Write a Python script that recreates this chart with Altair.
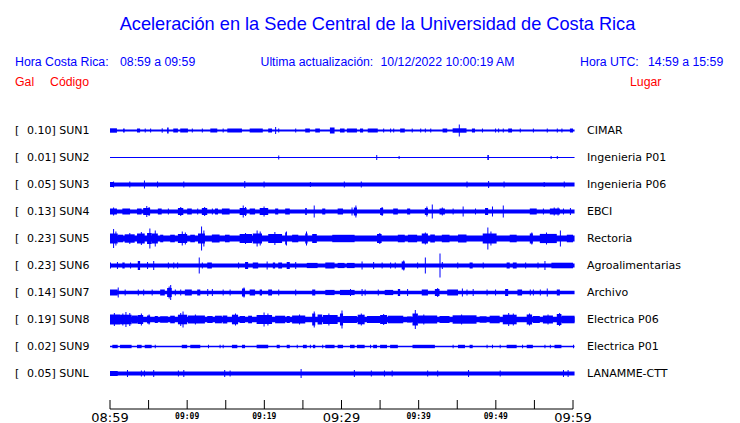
import altair as alt
import pandas as pd

# ---------------- data ----------------
stations = ["SUN1", "SUN2", "SUN3", "SUN4", "SUN5", "SUN6", "SUN7", "SUN8", "SUN9", "SUNL"]
gal = ["0.10", "0.01", "0.05", "0.13", "0.23", "0.23", "0.14", "0.19", "0.02", "0.05"]
places = ["CIMAR", "Ingenieria P01", "Ingenieria P06", "EBCI", "Rectoria",
          "Agroalimentarias", "Archivo", "Electrica P06", "Electrica P01", "LANAMME-CTT"]

# background noise half-amplitude of each trace (px)
noise = [1.0, 0.5, 2.0, 2.0, 3.0, 2.0, 1.8, 2.7, 0.7, 2.0]

# bursts / spikes: (start minute, end minute, half amplitude px)
sun1 = [(0, 0.9, 2.2), (1.7, 1.9, 2), (3.5, 3.9, 2), (4.5, 4.6, 2), (5.2, 5.3, 2), (6.7, 6.8, 2.2),
        (7.4, 7.6, 3), (8.2, 8.8, 2), (9.1, 10.1, 2), (10.6, 10.7, 2), (11.9, 12, 2), (13, 13.9, 2),
        (14.6, 14.7, 2), (15.2, 17.1, 2), (18.1, 19.8, 2), (20.5, 21, 2), (21.4, 21.5, 3.5),
        (21.8, 21.9, 2), (24, 24.1, 2), (25.3, 25.9, 2), (26.6, 27.2, 2), (28.5, 29.1, 3),
        (29.8, 30.4, 2), (30.7, 32, 2), (32.4, 32.8, 2), (33.4, 34.7, 2), (35.4, 35.5, 2),
        (36.3, 36.4, 2), (36.7, 36.8, 2), (37.6, 38.2, 2), (39.1, 39.2, 2), (40.2, 40.3, 2),
        (40.8, 40.9, 2), (41.5, 41.6, 2), (43.1, 43.7, 2), (44.4, 46.2, 2.2), (45.2, 45.2, 6),
        (46.9, 47.3, 2), (48.2, 48.3, 2), (49.9, 50, 2), (50.3, 50.4, 2), (50.9, 51, 2),
        (51.6, 52.1, 2), (53.1, 53.2, 2), (54.8, 54.9, 2), (56.6, 56.7, 2), (57.9, 58, 2),
        (58.5, 58.6, 2), (59.6, 60, 2)]
sun2 = [(21.8, 21.8, 2), (34.5, 34.5, 2.5), (37.4, 37.4, 1.5), (48.9, 49.1, 2.5), (57.1, 57.1, 1.5),
        (57.9, 57.9, 1.5)]
sun3 = [(0, 0.5, 2.5), (0.4, 0.4, 3), (2.5, 2.5, 3), (4.4, 4.4, 4), (6.1, 6.1, 3), (9.5, 9.5, 3),
        (17.4, 17.4, 3.5), (19.9, 19.9, 3), (25.9, 25.9, 2.5), (30.3, 30.3, 3), (32.5, 32.5, 3),
        (46.2, 46.2, 3), (49.0, 49.0, 3.5), (51.0, 51.0, 3), (56.2, 56.2, 2.5), (58.8, 58.8, 3)]
sun4 = [(0, 0.9, 3), (0.4, 0.4, 4), (1.6, 2.6, 3), (3.5, 4.1, 3), (4.3, 5.2, 3.5), (4.7, 4.7, 5.5),
        (5.0, 5.0, 4.5), (6.2, 6.7, 3), (7.5, 7.5, 3), (8.8, 9.5, 3.5), (9.1, 9.1, 4.5),
        (10.0, 10.6, 3), (11.3, 11.4, 3), (11.9, 12.6, 3.5), (12.2, 12.2, 4.5), (13.2, 13.2, 3),
        (13.6, 14.0, 3), (14.5, 15.5, 3), (16.8, 17.7, 3.5), (17.2, 17.2, 6), (17.5, 17.5, 4.5),
        (18.1, 18.8, 3), (19.4, 20.5, 3.5), (19.9, 19.9, 5), (21.4, 21.8, 3), (22.7, 23.3, 3),
        (25.3, 25.5, 3.5), (26.4, 26.4, 6), (27.5, 27.9, 3), (29.5, 30.2, 3), (31.3, 31.3, 4),
        (31.6, 32.0, 4), (31.8, 31.8, 6), (35.0, 35.4, 3.5), (35.2, 35.2, 4.5), (36.7, 37.3, 3),
        (38.5, 38.9, 3), (40.8, 41.2, 3.5), (41.0, 41.0, 5), (41.7, 41.7, 7), (42.7, 43.4, 3),
        (43.0, 43.0, 4), (44.4, 44.4, 3), (45.7, 45.7, 5), (47.3, 47.3, 3), (48.6, 49.0, 3.5),
        (49.5, 49.5, 5), (50.9, 50.9, 6), (54.4, 55.3, 3), (56.1, 56.1, 3), (57.0, 58.3, 3),
        (57.5, 57.5, 4), (58.0, 58.0, 4), (58.7, 58.7, 3), (59.6, 59.6, 3.5)]
sun5 = [(0, 1.0, 5), (0.4, 0.4, 9.5), (0.7, 0.7, 7), (1.0, 1.7, 3.8), (1.9, 3.2, 4.2), (2.5, 2.5, 5.5),
        (3.5, 4.5, 5), (4.0, 4.0, 6.5), (4.8, 5.4, 5.5), (5.1, 5.1, 10), (5.4, 6.2, 5), (5.8, 5.8, 8),
        (6.5, 6.9, 3.8), (7.8, 8.4, 3.8), (8.8, 10.0, 4.5), (9.3, 9.3, 7), (9.7, 9.7, 6),
        (10.4, 11.0, 3.8), (11.4, 12.3, 5), (11.8, 11.8, 12), (12.1, 12.1, 8), (13.2, 14.2, 4),
        (14.9, 15.5, 3.8), (16.8, 18.4, 4.5), (17.5, 17.5, 5.5), (18.5, 19.7, 5), (19.0, 19.0, 8),
        (19.4, 19.4, 7), (20.5, 22.3, 4.5), (21.3, 21.3, 6.5), (22.7, 22.9, 6), (22.8, 22.8, 7),
        (23.6, 24.4, 3.8), (25.3, 25.6, 5), (25.4, 25.4, 7), (26.2, 26.8, 4.5), (28.8, 31.7, 3.7),
        (34.6, 35.2, 4.5), (34.9, 34.9, 5.5), (37.3, 38.2, 3.8), (38.6, 39.8, 3.8), (40.4, 41.2, 5),
        (40.8, 40.8, 6), (41.5, 42.1, 4), (43.0, 44.0, 3.8), (45.1, 46.2, 4), (48.3, 50.1, 5),
        (48.9, 48.9, 11), (49.3, 49.3, 7), (51.8, 52.7, 3.8), (54.4, 54.8, 5), (54.6, 54.6, 6),
        (55.7, 57.9, 4.6), (56.5, 56.5, 6), (58.3, 58.3, 8), (59.2, 60, 3.8)]
sun6 = [(0, 0, 3), (0.9, 0.9, 3.5), (1.6, 1.9, 3), (2.6, 2.6, 3), (3.6, 3.9, 4.5), (4.8, 4.8, 3.5),
        (5.6, 5.6, 4.5), (7.5, 7.5, 3), (8.2, 8.2, 3), (8.7, 8.7, 3), (11.5, 11.5, 8), (11.9, 11.9, 3),
        (12.6, 13.2, 3), (16.6, 16.6, 3), (17.5, 17.9, 3.5), (18.5, 19.2, 3), (20.3, 20.3, 4),
        (21.1, 21.4, 3), (21.8, 22.3, 3), (22.9, 23.3, 3.5), (24.0, 24.0, 3.5), (25.5, 26.9, 2.6),
        (27.9, 29.1, 3), (29.5, 30.4, 2.6), (30.7, 31.7, 2.6), (32.6, 32.6, 4), (34.1, 34.1, 3.5),
        (35.2, 35.2, 3), (36.3, 36.3, 3), (36.9, 36.9, 3), (37.8, 38.2, 4), (38.0, 38.0, 5),
        (39.8, 39.8, 3), (40.8, 40.8, 8), (42.7, 42.7, 12), (43.0, 43.0, 3.5), (45.0, 45.0, 3),
        (46.6, 47.0, 3), (48.3, 48.3, 3), (51.4, 51.8, 3), (52.2, 52.7, 3), (53.8, 53.8, 3),
        (55.4, 55.4, 3), (56.3, 56.3, 4.5), (57.2, 60, 2.8)]
sun7 = [(0, 1.0, 3), (1.0, 1.0, 5), (1.9, 1.9, 3), (3.6, 3.6, 3), (4.3, 4.3, 3), (5.4, 5.4, 3),
        (6.5, 7.1, 3), (7.4, 8.0, 4.5), (7.8, 7.8, 7.5), (7.6, 7.6, 6), (8.4, 8.4, 3), (9.1, 9.1, 3),
        (9.7, 10.6, 3), (11.3, 11.7, 3), (12.6, 12.6, 3.5), (13.2, 13.3, 3.5), (14.6, 14.6, 3),
        (15.5, 15.5, 3), (17.1, 17.5, 4), (17.3, 17.3, 5), (18.1, 18.8, 3), (19.4, 19.7, 3),
        (20.5, 21.0, 3), (21.8, 21.8, 3), (24.0, 24.0, 3), (26.2, 26.6, 3), (27.9, 29.1, 2.6),
        (29.8, 31.7, 2.6), (31.1, 31.1, 3.5), (32.6, 32.6, 3.5), (33.0, 33.0, 3), (34.7, 34.7, 3),
        (35.6, 36.7, 2.6), (37.3, 37.6, 3.5), (38.5, 38.5, 3.5), (40.4, 41.2, 3), (42.1, 42.7, 3.5),
        (42.4, 42.4, 4.5), (43.7, 45.1, 3), (45.6, 45.6, 4), (46.2, 46.2, 3), (47.0, 47.0, 3.5),
        (48.8, 48.8, 3), (49.9, 49.9, 3), (51.2, 51.6, 3.5), (52.8, 53.4, 3), (54.4, 54.4, 3),
        (54.8, 54.8, 3), (55.7, 55.7, 3), (56.6, 56.7, 4), (57.9, 58.3, 3)]
sun8 = [(0, 1.3, 5), (0.5, 0.5, 6.5), (1.3, 2.8, 4.8), (2.0, 2.0, 7.5), (1.6, 1.6, 6), (2.5, 2.5, 6.5),
        (2.8, 3.6, 4), (3.6, 4.3, 4.5), (4.0, 4.0, 6), (4.8, 5.2, 4), (5.0, 5.0, 5), (5.8, 6.2, 3.5),
        (6.5, 7.5, 3.2), (7.8, 8.4, 3.8), (8.8, 10.0, 4.8), (9.4, 9.4, 8), (9.1, 9.1, 6.5),
        (10.1, 12.3, 4), (11.0, 11.0, 5), (12.6, 13.3, 3.5), (13.6, 14.5, 3.8), (14.6, 15.2, 4),
        (15.8, 16.6, 4.8), (16.2, 16.2, 6), (16.8, 17.5, 3.5), (17.9, 18.4, 3.8), (19.0, 21.0, 4.5),
        (19.9, 19.9, 7), (20.4, 20.4, 6), (21.4, 22.7, 3.8), (22.9, 23.3, 3.5), (23.6, 25.3, 4),
        (24.5, 24.5, 5), (26.2, 26.6, 6), (26.4, 26.4, 8), (26.9, 27.5, 5), (27.6, 29.5, 4.5),
        (28.3, 28.3, 6), (29.8, 30.2, 6), (30.0, 30.0, 9), (30.2, 32.0, 3.5), (32.1, 33.0, 4.8),
        (32.5, 32.5, 6), (33.3, 35.0, 3.5), (35.0, 35.9, 4.5), (35.4, 35.4, 5.5), (36.0, 38.0, 3.8),
        (38.5, 39.1, 3), (39.2, 39.9, 6), (39.5, 39.5, 9.5), (39.9, 42.4, 4), (40.6, 40.6, 5),
        (42.7, 44.0, 3.5), (44.4, 47.5, 4.2), (45.5, 45.5, 5), (47.9, 48.8, 3.2), (49.2, 50.5, 3.8),
        (50.9, 52.7, 4.8), (51.6, 51.6, 6.5), (52.2, 52.2, 6), (54.0, 54.7, 5), (54.3, 54.3, 6),
        (54.8, 55.7, 3.5), (56.1, 57.4, 4), (56.7, 56.7, 5), (57.9, 58.5, 5.5), (58.2, 58.2, 6.5),
        (58.5, 60.2, 3.8)]
sun9 = [(0.3, 1.0, 1.7), (1.3, 2.8, 1.7), (3.5, 4.1, 1.7), (4.5, 5.4, 1.7), (5.8, 5.8, 1.7),
        (9.3, 10.0, 1.7), (10.4, 11.7, 1.7), (12.7, 12.7, 1.7), (14.2, 14.2, 1.7), (14.6, 14.6, 1.7),
        (15.8, 16.5, 1.7), (17.1, 17.5, 1.7), (19.0, 20.5, 1.7), (21.6, 22.0, 1.7), (22.9, 23.3, 1.7),
        (24.2, 24.2, 1.7), (25.0, 25.5, 1.7), (25.9, 25.9, 1.7), (26.3, 26.6, 1.7), (27.5, 27.5, 1.7),
        (27.9, 29.1, 1.7), (29.5, 30.2, 1.7), (31.1, 31.7, 1.7), (32.0, 33.0, 1.7), (33.7, 33.7, 1.7),
        (34.1, 34.6, 1.7), (35.0, 35.9, 1.7), (36.3, 37.3, 1.7), (39.2, 42.1, 1.7), (44.4, 44.4, 1.7),
        (45.1, 46.0, 1.7), (46.6, 47.0, 1.7), (48.8, 48.8, 1.7), (49.5, 49.5, 1.7), (50.5, 50.5, 1.7),
        (51.4, 52.7, 1.7), (53.4, 53.4, 1.7), (54.0, 54.8, 1.7), (56.3, 56.3, 1.7), (57.0, 57.0, 1.7),
        (57.6, 58.5, 1.7), (60.0, 60.0, 1.7)]
sunl = [(0, 1.0, 2.5), (2.2, 2.2, 3.5), (4.0, 4.0, 3), (4.4, 4.4, 3), (5.6, 5.6, 3.5), (8.8, 8.8, 3),
        (9.5, 9.5, 3.5), (14.8, 14.8, 3.5), (15.5, 15.5, 3), (24.7, 24.7, 4.5), (31.6, 31.6, 3.5),
        (33.8, 33.8, 3), (35.5, 35.5, 3), (36.5, 36.5, 3), (41.1, 41.1, 3), (42.4, 42.4, 3),
        (46.4, 46.4, 3.5), (50.5, 50.5, 3), (58.7, 58.7, 3.5), (59.3, 59.3, 3.5)]
events = [sun1, sun2, sun3, sun4, sun5, sun6, sun7, sun8, sun9, sunl]

tick_minutes = [0, 5, 10, 15, 20, 25, 30, 35, 40, 45, 50, 55, 60]
big_minutes = [0, 30, 60]
big_labels = ["08:59", "09:29", "09:59"]
small_minutes = [10, 20, 40, 50]
small_labels = ["09:09", "09:19", "09:39", "09:49"]

# ---------------- tables ----------------
ROW_PX = 27.0
rows = []
for i, ev in enumerate(events):
    rows.append({"row": i, "start": 0.0, "end": 60.2, "amp": noise[i]})
    for s, e, a in ev:
        rows.append({"row": i, "start": s, "end": max(e, s + 0.13), "amp": a})
trace_df = pd.DataFrame(rows)
trace_df["y1"] = trace_df["row"] - trace_df["amp"] / ROW_PX
trace_df["y2"] = trace_df["row"] + trace_df["amp"] / ROW_PX

lab_df = pd.DataFrame({"row": list(range(10)), "gal": gal, "st": stations, "place": places})
lab_df["left"] = lab_df["gal"] + "] " + lab_df["st"]

BLUE = "#0000ff"
xs = alt.Scale(domain=[0, 60], range=[102, 565], nice=False, zero=False)
ys = alt.Scale(domain=[0, 9], range=[122.5, 365.5], nice=False, zero=False)

traces = alt.Chart(trace_df).mark_rect(color=BLUE).encode(
    x=alt.X("start:Q", scale=xs, axis=None), x2="end:Q",
    y=alt.Y("y1:Q", scale=ys, axis=None), y2="y2:Q")

lab_base = alt.Chart(lab_df)
bracket = lab_base.mark_text(align="left", baseline="middle", font="DejaVu Sans", fontSize=11,
                             color="black").encode(
    x=alt.value(7), y=alt.Y("row:Q", scale=ys, axis=None), text=alt.value("["))
left_lab = lab_base.mark_text(align="left", baseline="middle", font="DejaVu Sans", fontSize=11,
                              color="black").encode(
    x=alt.value(19), y=alt.Y("row:Q", scale=ys, axis=None), text="left:N")
right_lab = lab_base.mark_text(align="left", baseline="middle", font="DejaVu Sans", fontSize=11,
                               color="black").encode(
    x=alt.value(579), y=alt.Y("row:Q", scale=ys, axis=None), text="place:N")

axis_line = alt.Chart(pd.DataFrame({"a": [0], "b": [60]})).mark_rule(color="black").encode(
    x=alt.X("a:Q", scale=xs, axis=None), x2="b:Q", y=alt.value(401))
ticks = alt.Chart(pd.DataFrame({"m": tick_minutes})).mark_rule(color="black").encode(
    x=alt.X("m:Q", scale=xs, axis=None), y=alt.value(392), y2=alt.value(401))
big = alt.Chart(pd.DataFrame({"m": big_minutes, "t": big_labels})).mark_text(
    align="center", baseline="alphabetic", font="DejaVu Sans", fontSize=13, color="black").encode(
    x=alt.X("m:Q", scale=xs, axis=None), y=alt.value(413.5), text="t:N")
small = alt.Chart(pd.DataFrame({"m": small_minutes, "t": small_labels})).mark_text(
    align="center", baseline="alphabetic", font="DejaVu Sans Mono", fontSize=8, fontWeight="bold",
    color="black").encode(
    x=alt.X("m:Q", scale=xs, axis=None), y=alt.value(411), text="t:N")


def label(txt, x, y, color=BLUE, size=12.3, align="left"):
    return alt.Chart(pd.DataFrame({"t": [txt]})).mark_text(
        align=align, baseline="alphabetic", font="Liberation Sans", fontSize=size, color=color
    ).encode(x=alt.value(x), y=alt.value(y), text="t:N")


texts = [
    label("Aceleración en la Sede Central de la Universidad de Costa Rica", 369.5, 21.5, size=18.2,
          align="center"),
    label("Hora Costa Rica:", 7, 57.5),
    label("08:59 a 09:59", 112, 57.5),
    label("Ultima actualización:", 252.5, 57.5),
    label("10/12/2022 10:00:19 AM", 372.5, 57.5),
    label("Hora UTC:", 572, 57.5),
    label("14:59 a 15:59", 640, 57.5),
    label("Gal", 7, 77.5, color="red"),
    label("Código", 42, 77.5, color="red"),
    label("Lugar", 622, 77.5, color="red"),
]

chart = alt.layer(traces, bracket, left_lab, right_lab, axis_line, ticks, big, small, *texts).properties(
    width=724, height=415, padding=0, autosize=alt.AutoSizeParams(type="none"), background="white"
).configure_view(stroke=None)

chart.save("out.html", embed_options={"renderer": "svg", "actions": False})
